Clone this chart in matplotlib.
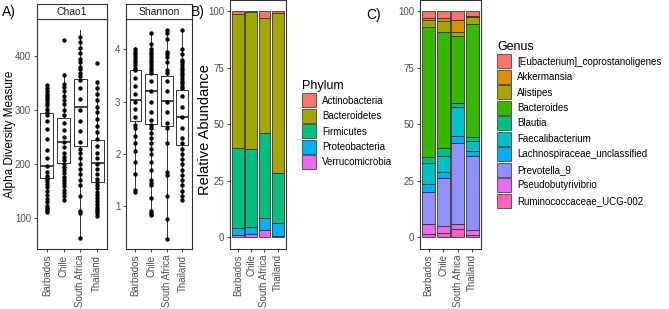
import matplotlib
matplotlib.use("Agg")
import matplotlib.pyplot as plt
from matplotlib.patches import Patch

plt.rcParams['font.family'] = ['Liberation Sans', 'DejaVu Sans']

W, H = 669, 309
countries = ["Barbados", "Chile", "South Africa", "Thailand"]

# ---- A) alpha diversity: box stats + all samples ----
chao_q1 = [173, 202, 232, 166]
chao_med = [196, 241, 305, 201]
chao_q3 = [294, 285, 358, 243]
chao_lo = [109, 132, 62, 102]
chao_hi = [347, 368, 449, 352]
chao_points = [
    [110, 114, 118, 122, 128, 135, 142, 150, 157, 163, 168, 172, 178, 185, 195,
     210, 225, 245, 265, 280, 290, 296, 302, 308, 313, 318, 322, 326, 330, 334, 340, 346],
    [133, 140, 146, 152, 158, 164, 170, 176, 182, 188, 194, 200, 206, 212, 220, 230,
     240, 250, 262, 275, 290, 300, 310, 318, 326, 334, 342, 348, 365, 430],
    [62, 108, 112, 140, 160, 170, 180, 190, 200, 210, 220, 228, 240, 260, 280, 300,
     320, 340, 355, 362, 368, 375, 380, 388, 395, 405, 415, 425, 435],
    [103, 108, 112, 116, 120, 125, 130, 136, 142, 148, 154, 160, 166, 172, 180, 190,
     200, 210, 220, 232, 245, 258, 270, 282, 295, 305, 318, 330, 340, 352, 387],
]

shan_q1 = [2.62, 2.57, 2.54, 2.17]
shan_med = [3.03, 3.21, 3.02, 2.71]
shan_q3 = [3.61, 3.53, 3.49, 3.23]
shan_lo = [1.28, 0.80, 0.36, 1.12]
shan_hi = [4.04, 4.32, 4.39, 4.37]
shan_points = [
    [1.28, 1.32, 1.62, 1.85, 2.05, 2.2, 2.35, 2.5, 2.55, 2.7, 2.85, 3.0, 3.15, 3.3,
     3.45, 3.6, 3.65, 3.7, 3.75, 3.8, 3.85, 3.9, 3.95, 4.0],
    [0.83, 0.88, 0.92, 1.15, 1.4, 1.45, 1.5, 1.7, 1.85, 2.0, 2.1, 2.2, 2.3, 2.4, 2.5,
     2.55, 2.65, 2.8, 3.0, 3.2, 3.4, 3.55, 3.6, 3.65, 3.7, 3.75, 3.8, 3.85, 3.9, 3.95,
     4.0, 4.1, 4.3],
    [0.38, 0.75, 1.2, 1.6, 1.65, 2.2, 2.5, 2.6, 2.8, 3.0, 3.2, 3.4, 3.55, 3.6, 3.75,
     3.85, 3.9, 3.95, 4.2, 4.3, 4.37],
    [1.12, 1.2, 1.3, 1.4, 1.5, 1.6, 1.7, 1.8, 1.9, 2.0, 2.1, 2.2, 2.3, 2.5, 2.7, 2.9,
     3.1, 3.25, 3.3, 3.35, 3.4, 3.45, 3.5, 3.55, 3.6, 3.65, 3.7, 3.75, 3.8, 3.9, 4.0, 4.37],
]

# ---- B) phylum relative abundance (top to bottom order) ----
phyla = ["Actinobacteria", "Bacteroidetes", "Firmicutes", "Proteobacteria", "Verrucomicrobia"]
phylum_colors = ["#F8766D", "#A3A500", "#00BF7D", "#00B0F6", "#E76BF3"]
phylum_vals = {
    "Actinobacteria": [1.0, 0.5, 2.8, 0.8],
    "Bacteroidetes": [59.5, 60.5, 51.2, 70.7],
    "Firmicutes": [35.5, 34.7, 37.7, 22.0],
    "Proteobacteria": [3.0, 3.0, 5.1, 6.0],
    "Verrucomicrobia": [1.0, 1.3, 3.2, 0.5],
}

# ---- C) genus relative abundance ----
genera = ["[Eubacterium]_coprostanoligenes", "Akkermansia", "Alistipes", "Bacteroides",
          "Blautia", "Faecalibacterium", "Lachnospiraceae_unclassified", "Prevotella_9",
          "Pseudobutyrivibrio", "Ruminococcaceae_UCG-002"]
genus_colors = ["#F8766D", "#D89000", "#A3A500", "#39B600", "#00BF7D",
                "#00BFC4", "#00B0F6", "#9590FF", "#E76BF3", "#FF62BC"]
genus_vals = {
    "[Eubacterium]_coprostanoligenes": [3.0, 3.0, 4.0, 2.0],
    "Akkermansia": [1.0, 1.5, 5.0, 0.5],
    "Alistipes": [3.0, 4.5, 2.0, 3.0],
    "Bacteroides": [57.5, 51.5, 29.5, 50.0],
    "Blautia": [2.5, 3.5, 2.0, 2.0],
    "Faecalibacterium": [9.5, 7.0, 12.5, 4.5],
    "Lachnospiraceae_unclassified": [3.5, 3.0, 3.5, 2.0],
    "Prevotella_9": [14.0, 21.2, 35.7, 33.0],
    "Pseudobutyrivibrio": [4.5, 2.8, 2.0, 2.0],
    "Ruminococcaceae_UCG-002": [1.5, 2.0, 3.8, 1.0],
}

GRAY = "#4D4D4D"
BORDER = "#333333"


def px_axes(fig, x0, y0, x1, y1):
    return fig.add_axes([x0 / W, 1 - y1 / H, (x1 - x0) / W, (y1 - y0) / H])


def style_axes(ax):
    for s in ax.spines.values():
        s.set_color(BORDER)
        s.set_linewidth(0.8)
    ax.tick_params(colors=GRAY, labelsize=7, length=2.5, width=0.8, pad=1.5)
    ax.set_xticks(range(1, 5))
    ax.set_xticklabels(countries, rotation=90, color=GRAY, fontsize=7)
    ax.set_xlim(0.4, 4.6)


def box_panel(ax, q1, med, q3, lo, hi, points):
    stats = []
    for i in range(4):
        stats.append({"q1": q1[i], "med": med[i], "q3": q3[i],
                      "whislo": lo[i], "whishi": hi[i], "fliers": []})
    ax.bxp(stats, positions=range(1, 5), widths=0.75, showcaps=False,
           boxprops=dict(color=BORDER, linewidth=0.7),
           whiskerprops=dict(color=BORDER, linewidth=0.7),
           medianprops=dict(color=BORDER, linewidth=1.3))
    for i, pts in enumerate(points):
        ax.scatter([i + 1] * len(pts), pts, s=10, color="black", zorder=3, linewidths=0)
    style_axes(ax)


def strip(fig, x0, x1, label):
    sa = px_axes(fig, x0, 4, x1, 19.3)
    sa.set_xticks([])
    sa.set_yticks([])
    for s in sa.spines.values():
        s.set_color(BORDER)
        s.set_linewidth(0.8)
    sa.text(0.5, 0.5, label, ha="center", va="center", fontsize=7.5, color="#1A1A1A",
            transform=sa.transAxes)


def stack_panel(ax, names, colors, vals):
    bottom = [0.0] * 4
    for name, col in reversed(list(zip(names, colors))):
        v = vals[name]
        ax.bar(range(1, 5), v, width=0.9, bottom=bottom, color=col,
               edgecolor=BORDER, linewidth=0.6)
        bottom = [b + x for b, x in zip(bottom, v)]
    ax.set_ylim(-5, 105)
    ax.set_yticks([0, 25, 50, 75, 100])
    style_axes(ax)


fig = plt.figure(figsize=(W / 100, H / 100), dpi=100)

# A) Chao1
ax1 = px_axes(fig, 36.7, 19.3, 107.3, 249.3)
box_panel(ax1, chao_q1, chao_med, chao_q3, chao_lo, chao_hi, chao_points)
ax1.set_ylim(41, 468)
ax1.set_yticks([100, 200, 300, 400])
ax1.set_ylabel("Alpha Diversity Measure", fontsize=8.5, color="black",
               va="center")
ax1.yaxis.set_label_coords((10 - 36.7) / 70.6, 0.5)
strip(fig, 36.7, 107.3, "Chao1")

# A) Shannon
ax2 = px_axes(fig, 126, 19.3, 191.7, 249.3)
box_panel(ax2, shan_q1, shan_med, shan_q3, shan_lo, shan_hi, shan_points)
ax2.set_ylim(0.18, 4.57)
ax2.set_yticks([1, 2, 3, 4])
strip(fig, 126, 191.7, "Shannon")

# B) Phylum
ax3 = px_axes(fig, 230, 0, 285.7, 248.5)
stack_panel(ax3, phyla, phylum_colors, phylum_vals)
ax3.set_ylabel("Relative Abundance", fontsize=10.5, color="black", va="center")
ax3.yaxis.set_label_coords((205 - 230) / 55.7, 0.477)

# C) Genus
ax4 = px_axes(fig, 420, 0, 480.7, 248.5)
stack_panel(ax4, genera, genus_colors, genus_vals)

# legends
for names, colors, title, x, y in [(phyla, phylum_colors, "Phylum", 302, 80),
                                   (genera, genus_colors, "Genus", 497, 41)]:
    handles = [Patch(facecolor=c, edgecolor="#444444", linewidth=0.6, label=n)
               for n, c in zip(names, colors)]
    leg = fig.legend(handles=handles, title=title, loc="upper left",
                     bbox_to_anchor=(x / W, 1 - y / H), frameon=False, fontsize=7,
                     title_fontsize=9, handlelength=1.45, handleheight=1.84,
                     labelspacing=0.15, handletextpad=0.6, borderpad=0, borderaxespad=0)
    leg._legend_box.align = "left"

# panel letters
fig.text(2 / W, 1 - 12 / H, "A)", fontsize=10, va="center", ha="left")
fig.text(191 / W, 1 - 12 / H, "B)", fontsize=10, va="center", ha="left")
fig.text(366 / W, 1 - 15 / H, "C)", fontsize=10, va="center", ha="left")

fig.savefig("out.png", dpi=100)
